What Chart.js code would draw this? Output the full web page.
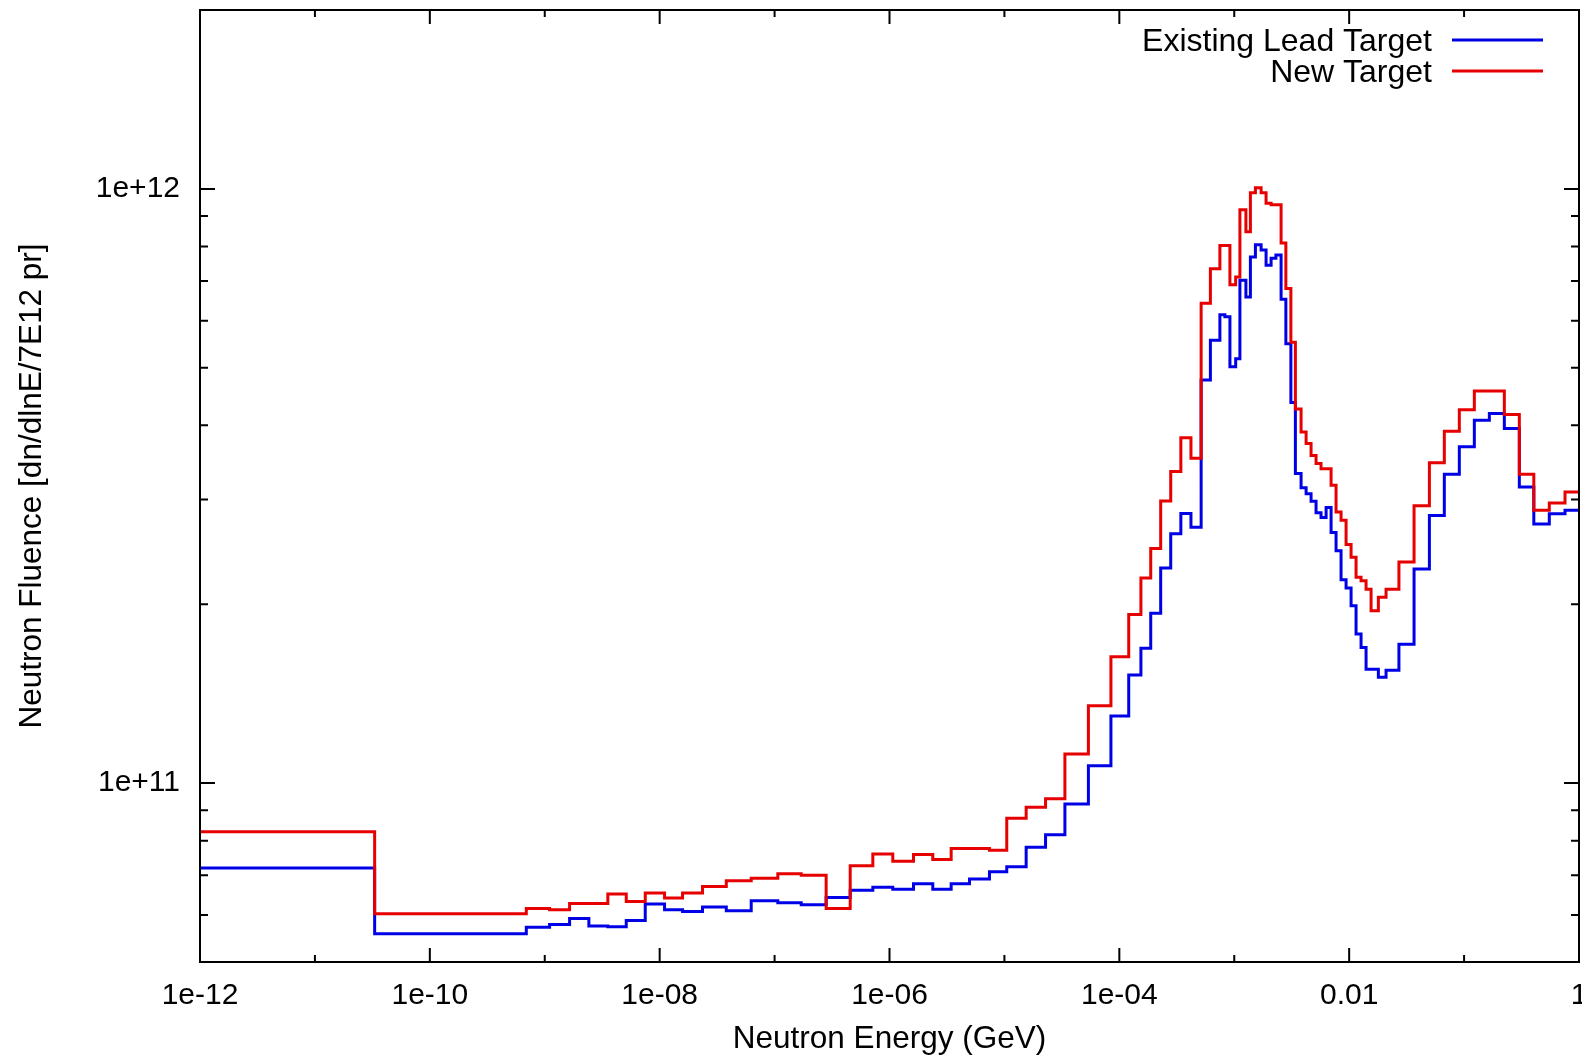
<!DOCTYPE html>
<html lang="en">
<head>
  <meta charset="UTF-8">
  <title>Neutron Fluence</title>
  <script src="https://cdn.jsdelivr.net/npm/chart.js"></script>
  <style>
    body { margin: 0; background: #fff; }
  </style>
</head>
<body>
<canvas id="myCanvas" width="1582" height="1058"></canvas>
<script>
  // bin edges in GeV (86 edges, 85 bins)
  const binEdges = [1e-12, 3.31e-11, 6.91e-10, 1.102e-9, 1.645e-9, 2.42e-9, 3.54e-9, 5.12e-9, 7.49e-9,
    1.103e-8, 1.582e-8, 2.36e-8, 3.80e-8, 6.26e-8, 1.067e-7, 1.705e-7, 2.81e-7, 4.55e-7, 7.16e-7,
    1.068e-6, 1.617e-6, 2.38e-6, 3.44e-6, 4.97e-6, 7.41e-6, 1.048e-5, 1.546e-5, 2.28e-5, 3.36e-5,
    5.38e-5, 8.45e-5, 1.207e-4, 1.541e-4, 1.876e-4, 2.29e-4, 2.80e-4, 3.43e-4, 4.20e-4, 5.15e-4,
    6.20e-4, 7.50e-4, 8.29e-4, 9.17e-4, 1.029e-3, 1.120e-3, 1.263e-3, 1.382e-3, 1.528e-3, 1.713e-3,
    1.892e-3, 2.092e-3, 2.304e-3, 2.556e-3, 2.813e-3, 3.110e-3, 3.404e-3, 3.815e-3, 4.22e-3, 4.66e-3,
    5.15e-3, 5.69e-3, 6.30e-3, 6.96e-3, 7.69e-3, 8.50e-3, 9.40e-3, 1.039e-2, 1.148e-2, 1.269e-2,
    1.403e-2, 1.551e-2, 1.795e-2, 2.094e-2, 2.71e-2, 3.67e-2, 4.99e-2, 6.73e-2, 9.09e-2, 0.1228,
    0.1659, 0.2240, 0.3025, 0.4044, 0.5515, 0.7555, 1.0];

  // fluence per bin, dn/dlnE/7E12 pr
  const existingLead = [7.20e10, 5.58e10, 5.72e10, 5.78e10, 5.92e10, 5.75e10, 5.73e10, 5.87e10, 6.26e10,
    6.12e10, 6.08e10, 6.19e10, 6.10e10, 6.34e10, 6.29e10, 6.24e10, 6.42e10, 6.60e10, 6.68e10,
    6.63e10, 6.77e10, 6.63e10, 6.77e10, 6.90e10, 7.09e10, 7.23e10, 7.80e10, 8.19e10, 9.22e10,
    1.070e11, 1.297e11, 1.520e11, 1.687e11, 1.931e11, 2.302e11, 2.628e11, 2.842e11, 2.695e11, 4.77e11,
    5.56e11, 6.14e11, 6.09e11, 5.02e11, 5.18e11, 7.02e11, 6.58e11, 7.68e11, 8.05e11, 7.89e11,
    7.44e11, 7.64e11, 7.74e11, 6.52e11, 5.49e11, 4.37e11, 3.32e11, 3.14e11, 3.07e11, 2.98e11,
    2.85e11, 2.80e11, 2.91e11, 2.64e11, 2.46e11, 2.20e11, 2.13e11, 1.989e11, 1.782e11, 1.691e11,
    1.555e11, 1.555e11, 1.507e11, 1.549e11, 1.713e11, 2.293e11, 2.82e11, 3.31e11, 3.68e11, 4.08e11,
    4.19e11, 3.95e11, 3.15e11, 2.73e11, 2.84e11, 2.88e11];

  const newTarget = [8.28e10, 6.03e10, 6.15e10, 6.12e10, 6.27e10, 6.27e10, 6.51e10, 6.32e10, 6.53e10,
    6.41e10, 6.53e10, 6.70e10, 6.85e10, 6.92e10, 7.04e10, 7.00e10, 6.15e10, 7.26e10, 7.60e10,
    7.39e10, 7.58e10, 7.44e10, 7.76e10, 7.76e10, 7.71e10, 8.73e10, 9.11e10, 9.41e10, 1.119e11,
    1.349e11, 1.631e11, 1.922e11, 2.215e11, 2.481e11, 2.983e11, 3.345e11, 3.814e11, 3.522e11, 6.42e11,
    7.34e11, 8.03e11, 8.03e11, 6.90e11, 7.11e11, 9.22e11, 8.47e11, 9.85e11, 1.004e12, 9.85e11,
    9.46e11, 9.40e11, 9.40e11, 8.11e11, 6.80e11, 5.52e11, 4.26e11, 3.90e11, 3.73e11, 3.56e11,
    3.45e11, 3.38e11, 3.38e11, 3.17e11, 2.86e11, 2.77e11, 2.52e11, 2.40e11, 2.22e11, 2.19e11,
    2.12e11, 1.950e11, 2.054e11, 2.12e11, 2.356e11, 2.93e11, 3.46e11, 3.91e11, 4.25e11, 4.57e11,
    4.57e11, 4.17e11, 3.31e11, 2.88e11, 2.96e11, 3.09e11];

  const seriesNames = ["Existing Lead Target", "New Target"];
  const seriesColors = ["#0000e6", "#e60000"];
  const xTickValues = [1e-12, 1e-10, 1e-8, 1e-6, 1e-4, 1e-2, 1];
  const xTickLabels = ["1e-12", "1e-10", "1e-08", "1e-06", "1e-04", "0.01", "1"];
  const yTickValues = [1e11, 1e12];
  const yTickLabels = ["1e+11", "1e+12"];

  Chart.defaults.font.family = "'Liberation Sans', Arial, sans-serif";
  Chart.defaults.color = "#000";

  // histogram: each bin starts at its left edge, last point closes the last bin
  function toSteps(values) {
    const pts = values.map((v, i) => ({ x: binEdges[i], y: v }));
    pts.push({ x: binEdges[binEdges.length - 1], y: values[values.length - 1] });
    return pts;
  }

  // gnuplot-like border with inward ticks on all four sides
  const framePlugin = {
    id: 'frame',
    afterDatasetsDraw(chart) {
      const { ctx, chartArea: a, scales: { x, y } } = chart;
      ctx.save();
      ctx.strokeStyle = '#000';
      ctx.lineWidth = 2;
      ctx.beginPath();
      for (let e = -12; e <= 0; e++) {
        const px = x.getPixelForValue(Math.pow(10, e));
        const len = e % 2 === 0 ? 14 : 7;
        ctx.moveTo(px, a.bottom); ctx.lineTo(px, a.bottom - len);
        ctx.moveTo(px, a.top); ctx.lineTo(px, a.top + len);
      }
      for (let d = 10; d <= 12; d++) {
        for (let k = 1; k <= 9; k++) {
          const v = k * Math.pow(10, d);
          if (v < y.min || v > y.max) continue;
          const py = y.getPixelForValue(v);
          const len = k === 1 ? 15 : 8;
          ctx.moveTo(a.left, py); ctx.lineTo(a.left + len, py);
          ctx.moveTo(a.right, py); ctx.lineTo(a.right - len, py);
        }
      }
      ctx.stroke();
      ctx.strokeRect(a.left, a.top, a.right - a.left, a.bottom - a.top);
      ctx.restore();
    }
  };

  // key in the top right corner: text first, sample line after it
  const keyPlugin = {
    id: 'key',
    afterDraw(chart) {
      const ctx = chart.ctx;
      ctx.save();
      ctx.font = "32px 'Liberation Sans', Arial, sans-serif";
      ctx.textAlign = 'right';
      ctx.textBaseline = 'alphabetic';
      ctx.fillStyle = '#000';
      ctx.lineWidth = 3;
      seriesNames.forEach((name, i) => {
        const base = 51 + i * 31;
        ctx.fillText(name, 1432, base);
        ctx.strokeStyle = seriesColors[i];
        ctx.beginPath();
        ctx.moveTo(1452, base - 11);
        ctx.lineTo(1543, base - 11);
        ctx.stroke();
      });
      ctx.restore();
    }
  };

  new Chart(document.getElementById("myCanvas"), {
    type: "line",
    data: {
      datasets: [
        {
          label: seriesNames[0],
          data: toSteps(existingLead),
          borderColor: seriesColors[0],
          borderWidth: 3,
          stepped: 'before',
          pointRadius: 0,
          fill: false,
          order: 1
        },
        {
          label: seriesNames[1],
          data: toSteps(newTarget),
          borderColor: seriesColors[1],
          borderWidth: 3,
          stepped: 'before',
          pointRadius: 0,
          fill: false,
          order: 0
        }
      ]
    },
    options: {
      responsive: false,
      animation: false,
      events: [],
      layout: { padding: { left: 0, top: 10, right: 3, bottom: 0 } },
      plugins: {
        legend: { display: false },
        tooltip: { enabled: false }
      },
      scales: {
        x: {
          type: 'logarithmic',
          min: 1e-12,
          max: 1,
          grid: { display: false, drawTicks: false },
          border: { display: false },
          afterBuildTicks: scale => { scale.ticks = xTickValues.map(v => ({ value: v })); },
          afterFit: scale => { scale.height = 96; scale.paddingLeft = 0; scale.paddingRight = 0; },
          ticks: {
            autoSkip: false,
            maxRotation: 0,
            padding: 16,
            font: { size: 30 },
            callback: (value, index) => xTickLabels[index]
          },
          title: {
            display: true,
            text: 'Neutron Energy (GeV)',
            font: { size: 31.5 },
            padding: { top: 0, bottom: 0 }
          }
        },
        y: {
          type: 'logarithmic',
          min: 5e10,
          max: 2e12,
          grid: { display: false, drawTicks: false },
          border: { display: false },
          afterBuildTicks: scale => { scale.ticks = yTickValues.map(v => ({ value: v })); },
          afterFit: scale => { scale.width = 200; scale.paddingTop = 0; scale.paddingBottom = 0; },
          ticks: {
            padding: 20,
            font: { size: 30 },
            callback: (value, index) => yTickLabels[index]
          },
          title: {
            display: true,
            text: 'Neutron Fluence [dn/dlnE/7E12 pr]',
            font: { size: 31.5 },
            padding: { top: 13, bottom: 0 }
          }
        }
      }
    },
    plugins: [framePlugin, keyPlugin]
  });
</script>
</body>
</html>
